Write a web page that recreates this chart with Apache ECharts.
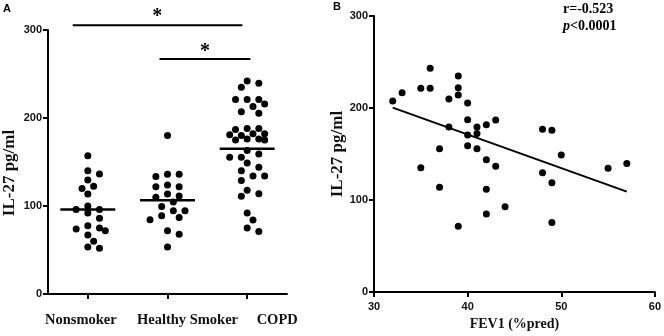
<!DOCTYPE html>
<html>
<head>
<meta charset="utf-8">
<script src="https://cdn.jsdelivr.net/npm/echarts@6/dist/echarts.min.js"></script>
<style>
  html, body { margin: 0; padding: 0; background: #fff; }
  #chart { width: 664px; height: 336px; }
</style>
</head>
<body>
<div id="chart"></div>
<script>
// panel A: IL-27 per group
const groups = ['Nonsmoker', 'Healthy Smoker', 'COPD']
const nonsmoker = [157, 140, 136.5, 129.5, 120, 122.5, 113.5, 96, 100, 92, 96, 86, 72, 75, 77.5, 74, 67, 60, 52, 53.5]
const healthySmoker = [180, 136, 133.5, 136, 122, 122, 124, 111.5, 113.5, 110, 104.5, 99.5, 94.5, 94.5, 89, 87, 84.5, 72, 68, 53.5]
const copd = [242, 239.5, 235, 221, 216, 221, 221, 213, 207, 205.5, 188, 182, 176, 180, 175, 187, 181, 175, 188, 182, 176,
  163, 155.5, 159, 155.5, 149, 144, 134, 140, 129, 134, 118, 111, 114, 92, 84, 71, 75]
const medians = [96, 106.5, 165]
const yTicksA = [0, 100, 200, 300]

// panel B: IL-27 vs FEV1
const fev1 = [32, 33, 35, 36, 36, 39, 39, 39, 38, 40, 40, 38, 41, 41, 40, 42, 43, 37, 40, 41, 42, 43, 35, 37, 42, 44, 42, 39, 48, 49, 50, 48, 49, 49, 55, 57]
const il27 = [207.7, 216.6, 221.6, 221.6, 243.1, 234.9, 222, 214.1, 209.8, 205.5, 187.3, 179.4, 179.4, 172.2, 170.8, 181.9, 186.9, 155.7, 159, 155.7,
  143.9, 136.8, 135, 113.9, 111.7, 92.7, 84.9, 71.6, 176.9, 175.8, 148.9, 129.6, 118.9, 75.5, 134.6, 139.6]
const fitLine = [[32, 200.5], [57, 109.2]]
const xTicksB = [30, 40, 50, 60]

const serif = '"Liberation Serif", "Times New Roman", serif'
const sans = '"Liberation Sans", Arial, sans-serif'

// grid geometry (px)
const gA = { left: 45, top: 30, width: 242, height: 264 }
const gB = { left: 374, top: 16, width: 283, height: 279 }

// simple beeswarm, at most 3 slots either side; crowded dots overlap a little
function swarm(values, center) {
  const pxX = gA.width / 3
  const pxY = gA.height / 300
  const step = 5.9
  const placed = []
  const order = values.map((v, i) => i).sort((a, b) => values[b] - values[a])
  const slots = [0, 1, -1, 2, -2, 3, -3]
  const out = []
  order.forEach(i => {
    const y = values[i] * pxY
    let best = 0, bestD = -1
    for (const k of slots) {
      const x = k * step
      let d = Infinity
      placed.forEach(p => {
        const dx = p[0] - x, dy = p[1] - y
        d = Math.min(d, dx * dx + dy * dy)
      })
      if (d >= 64) { best = x; bestD = d; break }
      if (d > bestD) { bestD = d; best = x }
    }
    placed.push([best, y])
    out.push([center + best / pxX, values[i]])
  })
  return out
}

const axisLine = { show: true, lineStyle: { color: '#000', width: 2 } }
const axisTick = { show: true, length: 5, lineStyle: { color: '#000', width: 2 } }
const tickLabel = { color: '#111', fontFamily: sans, fontWeight: 'bold', fontSize: 11 }
const dot = { color: '#000', opacity: 1 }

const groupData = [nonsmoker, healthySmoker, copd]
const series = []
groupData.forEach((vals, i) => {
  series.push({
    type: 'scatter', xAxisIndex: 1, yAxisIndex: 0,
    symbolSize: 7, itemStyle: dot,
    data: swarm(vals, i + 1), silent: true
  })
  series.push({
    type: 'line', xAxisIndex: 1, yAxisIndex: 0, symbol: 'none',
    lineStyle: { color: '#000', width: 2.5 },
    data: [[i + 1 - 0.345, medians[i]], [i + 1 + 0.345, medians[i]]], silent: true
  })
})
series.push({
  type: 'scatter', xAxisIndex: 2, yAxisIndex: 1,
  symbolSize: 7, itemStyle: dot,
  data: fev1.map((f, i) => [f, il27[i]]), silent: true
})
series.push({
  type: 'line', xAxisIndex: 2, yAxisIndex: 1, symbol: 'none',
  lineStyle: { color: '#000', width: 2 },
  data: fitLine, silent: true
})

const chart = echarts.init(document.getElementById('chart'))
chart.setOption({
  animation: false,
  backgroundColor: '#fff',
  grid: [
    Object.assign({}, gA),
    Object.assign({}, gB)
  ],
  xAxis: [
    {
      type: 'category', gridIndex: 0,
      data: [
        { value: groups[0], textStyle: { padding: [0, 14, 0, 0] } },
        { value: groups[1], textStyle: { padding: [0, 0, 0, 40] } },
        { value: groups[2], textStyle: { padding: [0, 0, 0, 60] } }
      ],
      axisLine: axisLine,
      axisTick: Object.assign({ alignWithLabel: true }, axisTick),
      axisLabel: { interval: 0, margin: 19, color: '#111', fontFamily: serif, fontWeight: 'bold', fontSize: 14.5 },
      splitLine: { show: false }
    },
    { type: 'value', gridIndex: 0, min: 0.5, max: 3.5, show: false },
    {
      type: 'value', gridIndex: 1, min: xTicksB[0], max: xTicksB[xTicksB.length - 1], interval: 10,
      axisLine: axisLine, axisTick: axisTick,
      axisLabel: Object.assign({ margin: 9 }, tickLabel),
      splitLine: { show: false },
      name: 'FEV1 (%pred)', nameLocation: 'middle', nameGap: 18,
      nameTextStyle: { color: '#111', fontFamily: serif, fontWeight: 'bold', fontSize: 14 }
    }
  ],
  yAxis: [
    {
      type: 'value', gridIndex: 0, min: yTicksA[0], max: yTicksA[yTicksA.length - 1], interval: 100,
      axisLine: axisLine, axisTick: axisTick,
      axisLabel: Object.assign({ margin: 6 }, tickLabel),
      splitLine: { show: false },
      name: 'IL-27 pg/ml', nameLocation: 'middle', nameGap: 30,
      nameTextStyle: { color: '#111', fontFamily: serif, fontWeight: 'bold', fontSize: 17, padding: [0, 22, 0, 0] }
    },
    {
      type: 'value', gridIndex: 1, min: 0, max: 300, interval: 100,
      axisLine: axisLine, axisTick: axisTick,
      axisLabel: Object.assign({ margin: 6 }, tickLabel),
      splitLine: { show: false },
      name: 'IL-27 pg/ml', nameLocation: 'middle', nameGap: 28,
      nameTextStyle: { color: '#111', fontFamily: serif, fontWeight: 'bold', fontSize: 17 }
    }
  ],
  series: series
})

// significance brackets and panel annotations
const sig = [
  { from: 0.81, to: 2.94, y: 305.5, star: 1.87, lift: 12 },
  { from: 1.90, to: 3.04, y: 267, star: 2.47, lift: 11 }
]
const graphics = []
sig.forEach(s => {
  const a = chart.convertToPixel({ xAxisIndex: 1, yAxisIndex: 0 }, [s.from, s.y])
  const b = chart.convertToPixel({ xAxisIndex: 1, yAxisIndex: 0 }, [s.to, s.y])
  const c = chart.convertToPixel({ xAxisIndex: 1, yAxisIndex: 0 }, [s.star, s.y])
  graphics.push({ type: 'line', shape: { x1: a[0], y1: a[1], x2: b[0], y2: b[1] }, style: { stroke: '#000', lineWidth: 2 } })
  graphics.push({ type: 'text', x: c[0], y: c[1] - s.lift + 4, style: { text: '*', font: 'bold 20px ' + serif, fill: '#000', align: 'center', verticalAlign: 'middle' } })
})
graphics.push({ type: 'text', x: 3, y: 3, style: { text: 'A', font: 'bold 11px ' + sans, fill: '#000' } })
graphics.push({ type: 'text', x: 333, y: 1, style: { text: 'B', font: 'bold 11px ' + sans, fill: '#000' } })
graphics.push({
  type: 'text', x: 563, y: 1,
  style: {
    text: '{r|r=-0.523}\n{p|p}{r|<0.0001}',
    rich: {
      r: { font: 'bold 14px ' + serif, fill: '#000', lineHeight: 17 },
      p: { font: 'italic bold 14px ' + serif, fill: '#000', lineHeight: 17 }
    }
  }
})
chart.setOption({ graphic: graphics })
</script>
</body>
</html>
